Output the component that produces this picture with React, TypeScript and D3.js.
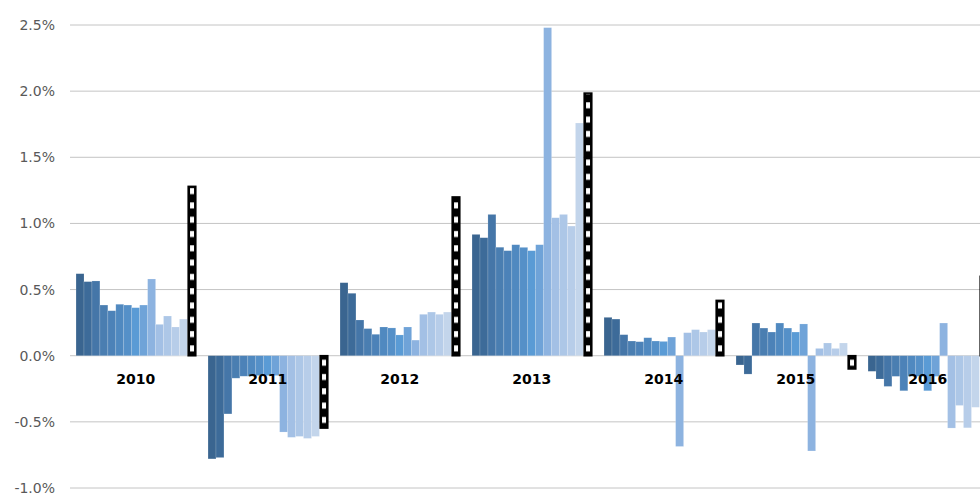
import React from 'react';
import * as d3 from 'd3';

// yearly groups, 14 monthly-style series + one annual bar per year
const years = ['2010', '2011', '2012', '2013', '2014', '2015', '2016'];

const v2010 = [0.62, 0.56, 0.565, 0.383, 0.34, 0.389, 0.383, 0.363, 0.383, 0.58, 0.237, 0.3, 0.217, 0.277];
const v2011 = [-0.78, -0.77, -0.44, -0.17, -0.155, -0.155, -0.15, -0.15, -0.15, -0.577, -0.617, -0.61, -0.625, -0.61];
const v2012 = [0.552, 0.472, 0.27, 0.205, 0.162, 0.217, 0.21, 0.157, 0.217, 0.118, 0.313, 0.33, 0.313, 0.33];
const v2013 = [0.917, 0.892, 1.068, 0.82, 0.794, 0.839, 0.819, 0.794, 0.839, 2.48, 1.043, 1.068, 0.98, 1.759];
const v2014 = [0.29, 0.277, 0.159, 0.111, 0.106, 0.136, 0.111, 0.108, 0.141, -0.686, 0.174, 0.197, 0.179, 0.197];
const v2015 = [-0.07, -0.139, 0.247, 0.209, 0.179, 0.247, 0.209, 0.179, 0.24, -0.72, 0.055, 0.096, 0.055, 0.096];
const v2016 = [-0.118, -0.176, -0.232, -0.156, -0.265, -0.156, -0.156, -0.265, -0.156, 0.247, -0.547, -0.376, -0.545, -0.39];

const annual = [1.28, -0.547, 1.2, 1.985, 0.418, -0.1, 0.6];

const yTicks = [-1.0, -0.5, 0, 0.5, 1.0, 1.5, 2.0, 2.5];

const seriesColors = [
  '#3a6590', '#3d6b99', '#4576a8', '#4a7eb1', '#4c82b8', '#5089c0', '#5590c8', '#5a9bd5',
  '#6fa3d8', '#8db3e0', '#a3c0e5', '#adc7e7', '#b7cde9', '#c3d5eb',
];

const monthly = [v2010, v2011, v2012, v2013, v2014, v2015, v2016];

const W = 980;
const H = 493;

export default function App() {
  const y = d3.scaleLinear().domain([-1, 2.5]).range([488, 25]);

  const x0 = d3.scaleBand<string>()
    .domain(years)
    .range([69.7, 69.7 + 7 * 132])
    .paddingInner(0.096)
    .paddingOuter(0.048);

  const x1 = d3.scaleBand<number>()
    .domain(d3.range(15))
    .range([0, x0.bandwidth()])
    .padding(0);

  const fmt = (d: number) => d.toFixed(1) + '%';

  return (
    <svg
      width={W}
      height={H}
      style={{ position: 'fixed', left: 0, top: 0, display: 'block', background: '#fff' }}
    >
      <defs>
        <pattern id="checker" patternUnits="userSpaceOnUse" width="8" height="14.3" y={y(0)}>
          <rect width="8" height="14.3" fill="#000" />
          <rect x="2" y="4" width="4" height="6" fill="#fff" />
        </pattern>
      </defs>

      {/* gridlines */}
      <g>
        {yTicks.map((t) => (
          <line key={t} x1={70} x2={W} y1={y(t)} y2={y(t)} stroke="#c4c4c4" strokeWidth={1} />
        ))}
      </g>

      {/* y labels */}
      <g fontFamily="DejaVu Sans, Verdana, sans-serif" fontSize={14} fill="#595959" textAnchor="end">
        {yTicks.map((t) => (
          <text key={t} x={55} y={y(t)} dy="0.36em">{fmt(t)}</text>
        ))}
      </g>

      {/* monthly bars */}
      {years.map((yr, gi) => (
        <g key={yr} transform={`translate(${x0(yr)},0)`}>
          {monthly[gi].map((v, si) => (
            <rect
              key={si}
              x={x1(si)}
              y={y(Math.max(0, v))}
              width={x1.bandwidth()}
              height={Math.abs(y(v) - y(0))}
              fill={seriesColors[si]}
              stroke="#ffffff"
              strokeOpacity={0.25}
              strokeWidth={0.6}
            />
          ))}
          <rect
            x={(x1(14) as number) + 0.8}
            y={y(Math.max(0, annual[gi]))}
            width={x1.bandwidth() - 0.4}
            height={Math.abs(y(annual[gi]) - y(0))}
            fill="url(#checker)"
            stroke="#000"
            strokeWidth={1.6}
          />
        </g>
      ))}

      {/* year labels */}
      <g fontFamily="DejaVu Sans, Verdana, sans-serif" fontSize={14} fontWeight="bold" fill="#000" textAnchor="middle">
        {years.map((yr) => (
          <text key={yr} x={(x0(yr) as number) + x0.bandwidth() / 2} y={384}>{yr}</text>
        ))}
      </g>
    </svg>
  );
}
